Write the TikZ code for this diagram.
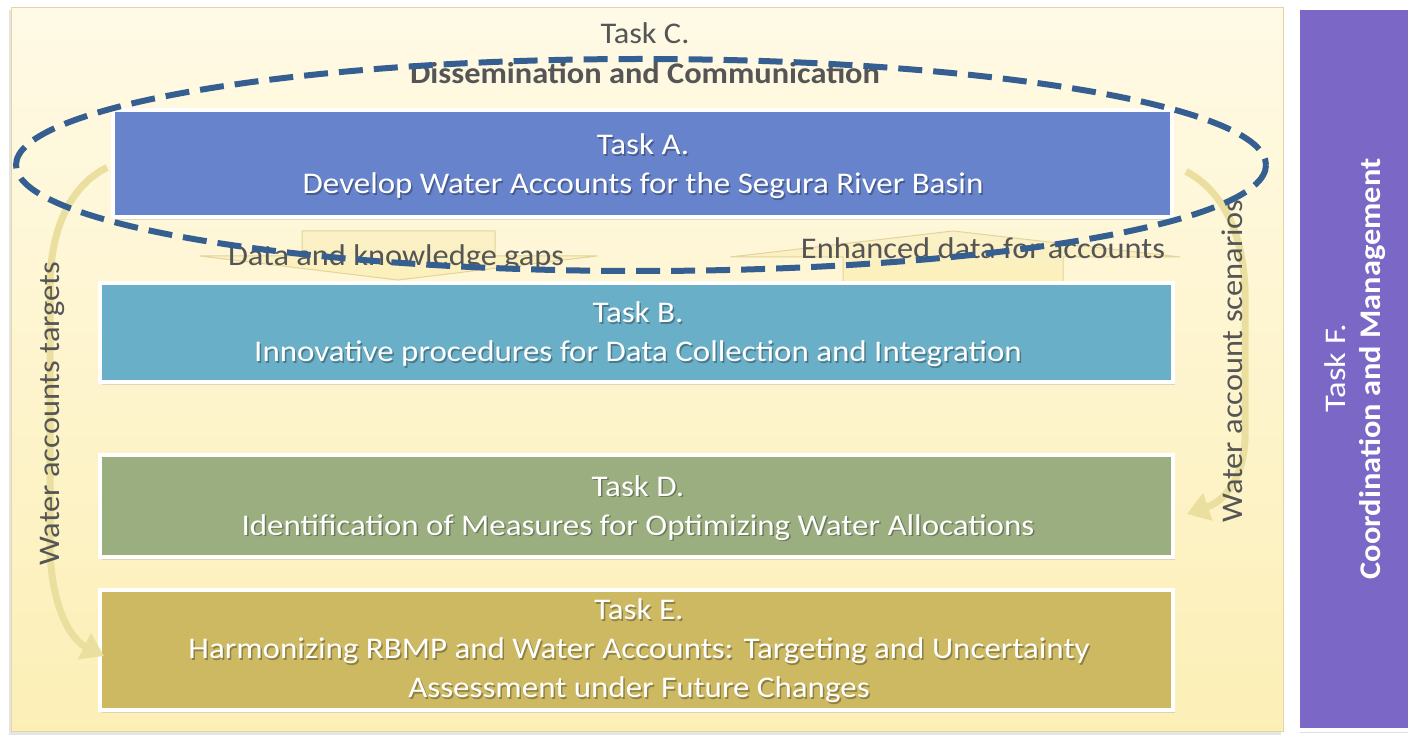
\documentclass[tikz,border=0pt]{standalone}
\usepackage{fontspec}
\setmainfont{Carlito}
\newfontfamily\wfont[FakeStretch=1.1]{Carlito}
\newfontfamily\lfont[FakeStretch=1.08]{Carlito}
\newfontfamily\tfont[FakeStretch=1.15]{Carlito}
\usetikzlibrary{calc,arrows.meta,shadows}
\definecolor{bgtop}{HTML}{FFFAE6}
\definecolor{bgbot}{HTML}{FCEFB6}
\definecolor{bgedge}{HTML}{E2D7A4}
\definecolor{colA}{HTML}{6683CC}
\definecolor{colB}{HTML}{6AAFC8}
\definecolor{colD}{HTML}{9BAE80}
\definecolor{colE}{HTML}{CDB962}
\definecolor{colF}{HTML}{7B67C6}
\definecolor{dashblue}{HTML}{365F91}
\definecolor{labgray}{HTML}{555555}
\definecolor{arrfill}{HTML}{FBF1C8}
\definecolor{arredge}{HTML}{E3D49A}
\definecolor{curvecol}{HTML}{EADF9E}
\tikzset{
  taskbox/.style={draw=white, line width=4pt, inner sep=0pt,
    drop shadow={shadow xshift=2pt, shadow yshift=-3pt, opacity=0.25}},
  boxtext/.style={text=white, align=center, font=\wfont\fontsize{30}{39}\selectfont},
  boxshadow/.style={text=black, opacity=0.3, align=center, font=\wfont\fontsize{30}{39}\selectfont},
  lab/.style={text=labgray, font=\lfont\fontsize{30}{32}\selectfont},
  blockarrow/.style={draw=arredge, line width=1pt, top color=arrfill, bottom color=bgbot!80!arrfill},
  curvearrow/.style={draw=curvecol, line width=7pt, -{Triangle[length=22pt,width=28pt]}},
}
\begin{document}
\begin{tikzpicture}[x=1pt,y=-1pt]
\useasboundingbox (0,0) rectangle (1408,735);
\fill[white] (0,0) rectangle (1408,735);
% main panel
\node[draw=bgedge, line width=1pt, top color=bgtop, bottom color=bgbot, inner sep=0pt,
  minimum width=1272pt, minimum height=724pt,
  drop shadow={shadow xshift=-2pt, shadow yshift=-3pt, opacity=0.2}] (panel) at (647,369.5) {};
% Task F
\node[taskbox, fill=colF, minimum width=114pt, minimum height=722pt] (F) at (1355,369) {};
\node[text=white, rotate=90, font=\tfont\fontsize{30}{32}\selectfont] (Ft) at (1335,368) {Task F.};
\node[text=white, rotate=90, font=\lfont\fontsize{30}{32}\selectfont\bfseries] (Fb) at (1372,369) {Coordination and Management};
% block arrows between A and B
\path[blockarrow] (302,231) -- (495,231) -- (495,256) -- (597,256) -- (398,280) -- (200,256) -- (302,256) -- cycle;
\path[blockarrow] (843,283) -- (1063,283) -- (1063,257) -- (1180,257) -- (953,231) -- (730,257) -- (843,257) -- cycle;
% task boxes
\node[taskbox, fill=colA, minimum width=1059pt, minimum height=107pt] (A) at (642.5,163.5) {};
\node[taskbox, fill=colB, minimum width=1073pt, minimum height=99pt] (B) at (636.5,332.5) {};
\node[taskbox, fill=colD, minimum width=1073pt, minimum height=102pt] (D) at (636.5,506) {};
\node[taskbox, fill=colE, minimum width=1073pt, minimum height=120pt] (E) at (636.5,650) {};
% box texts
\node[boxshadow] at (644.5,168) {Task A.\\Develop Water Accounts for the Segura River Basin};
\node[boxtext] (At) at (643,166.5) {Task A.\\Develop Water Accounts for the Segura River Basin};
\node[boxshadow] at (639.5,336) {Task B.\\Innovative procedures for Data Collection and Integration};
\node[boxtext] (Bt) at (638,334.5) {Task B.\\Innovative procedures for Data Collection and Integration};
\node[boxshadow] at (639.5,509.5) {Task D.\\Identification of Measures for Optimizing Water Allocations};
\node[boxtext] (Dt) at (638,508) {Task D.\\Identification of Measures for Optimizing Water Allocations};
\node[boxshadow] at (640.5,652.5) {Task E.\\Harmonizing RBMP and Water Accounts: Targeting and Uncertainty\\Assessment under Future Changes};
\node[boxtext] (Et) at (639,651) {Task E.\\Harmonizing RBMP and Water Accounts: Targeting and Uncertainty\\Assessment under Future Changes};
% Task C
\node[lab] (Ct) at (645,33) {Task C.};
\node[lab, font=\lfont\fontsize{30}{32}\selectfont\bfseries] (Cb) at (645,73) {Dissemination and Communication};
% curved arrows
\coordinate (lstart) at ($(A.west)+(-4,4)$);
\coordinate (lend) at ($(E.west)+(6,6)$);
\coordinate (rstart) at ($(A.east)+(12,8)$);
\coordinate (rend) at ($(D.east)+(12,8)$);
\draw[curvearrow] (lstart) .. controls (72,185) and (52,225) .. (50,280) -- (50,550) .. controls (52,610) and (72,640) .. (lend);
\draw[curvearrow] (rstart) .. controls (1222,190) and (1243,232) .. (1245,290) -- (1245,440) .. controls (1243,482) and (1222,502) .. (rend);
% labels
\node[lab, rotate=90] (Lt) at (52,414) {Water accounts targets};
\node[lab, rotate=90] (Rt) at (1232,361) {Water account scenarios};
\node[lab] (Dk) at (396,258) {Data and knowledge gaps};
\node[lab] (Ed) at (983,248) {Enhanced data for accounts};
% dashed ellipse
\draw[dashblue, line width=6pt, dash pattern=on 24pt off 11pt] (641,165) ellipse [x radius=625, y radius=106];
\end{tikzpicture}
\end{document}
